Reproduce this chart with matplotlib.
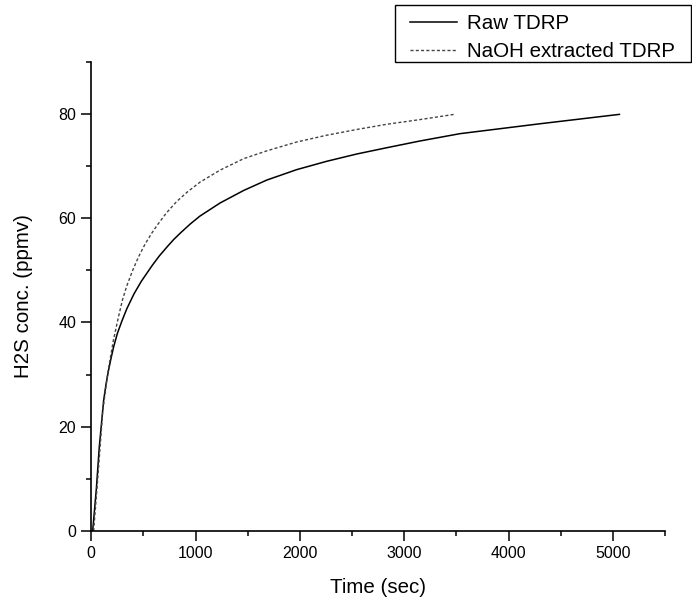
import matplotlib
matplotlib.use("Agg")
import matplotlib.pyplot as plt
from matplotlib.patches import Rectangle
from matplotlib.ticker import MultipleLocator

plt.rcParams['font.family'] = ['Liberation Sans', 'DejaVu Sans']

# H2S breakthrough readings (time in seconds, concentration in ppmv)
raw_time = [13, 48, 77, 118, 140, 166, 190, 214, 250, 294, 340, 410, 480,
            583, 650, 727, 790, 857, 950, 1042, 1234, 1460, 1682, 1969, 2257,
            2545, 2832, 3152, 3535, 4302, 5063]
raw_conc = [0.0, 8.0, 16.2, 25.0, 28.0, 30.9, 33.2, 35.3, 37.9, 40.3, 42.6,
            45.5, 47.9, 50.9, 52.7, 54.5, 55.9, 57.2, 58.9, 60.4, 62.9, 65.3,
            67.3, 69.3, 70.9, 72.3, 73.5, 74.8, 76.2, 78.1, 79.9]

naoh_time = [22, 54, 110, 157, 185, 214, 262, 300, 340, 395, 451, 515, 579,
             630, 720, 819, 920, 1042, 1234, 1460, 1682, 1969, 2257, 2545,
             2832, 3152, 3479]
naoh_conc = [0.0, 8.0, 23.0, 30.2, 33.5, 36.8, 41.2, 44.4, 47.0, 49.9, 52.5,
             55.0, 57.1, 58.6, 61.0, 63.2, 65.0, 66.9, 69.2, 71.4, 72.9, 74.6,
             75.9, 77.0, 78.0, 78.9, 79.9]

labels = ["Raw TDRP", "NaOH extracted TDRP"]
x_label = "Time (sec)"
y_label = "H2S conc. (ppmv)"

W, H = 692, 601
fig = plt.figure(figsize=(W / 100, H / 100), dpi=100)
ax = fig.add_axes([91.3 / W, 1 - 531 / H, (665 - 91.3) / W, (531 - 61.7) / H])

l1, = ax.plot(raw_time, raw_conc, color='black', lw=1.1, label=labels[0])
l2, = ax.plot(naoh_time, naoh_conc, color='#444444', lw=1.0,
              linestyle=(0, (2.2, 1.6)), label=labels[1])

ax.set_xlim(0, 5500)
ax.set_ylim(0, 90)
ax.xaxis.set_major_locator(MultipleLocator(1000))
ax.xaxis.set_minor_locator(MultipleLocator(500))
ax.yaxis.set_major_locator(MultipleLocator(20))
ax.yaxis.set_minor_locator(MultipleLocator(10))

for side in ('top', 'right'):
    ax.spines[side].set_visible(False)
for side in ('left', 'bottom'):
    ax.spines[side].set_linewidth(1.2)

ax.tick_params(which='major', direction='out', length=7, width=1.1,
               labelsize=11.5, pad=4)
ax.tick_params(which='minor', direction='out', length=3.6, width=1.1)

ax.set_xlabel(x_label, fontsize=14.8, labelpad=12)
ax.set_ylabel(y_label, fontsize=14.8, labelpad=18)

# legend box reaching the right edge of the figure
fig.patches.append(Rectangle((395 / W, 1 - 62 / H), (690.5 - 395) / W,
                             (62 - 5) / H, transform=fig.transFigure,
                             facecolor='white', edgecolor='black', lw=1.0,
                             zorder=5))
leg = fig.legend(handles=[l1, l2], loc='upper left',
                 bbox_to_anchor=(410 / W, 1 - 14 / H),
                 fontsize=14.8, frameon=False,
                 handlelength=2.3, handletextpad=0.45, borderpad=0,
                 labelspacing=0.44, borderaxespad=0)
leg.set_zorder(6)

fig.savefig("out.png", dpi=100)
